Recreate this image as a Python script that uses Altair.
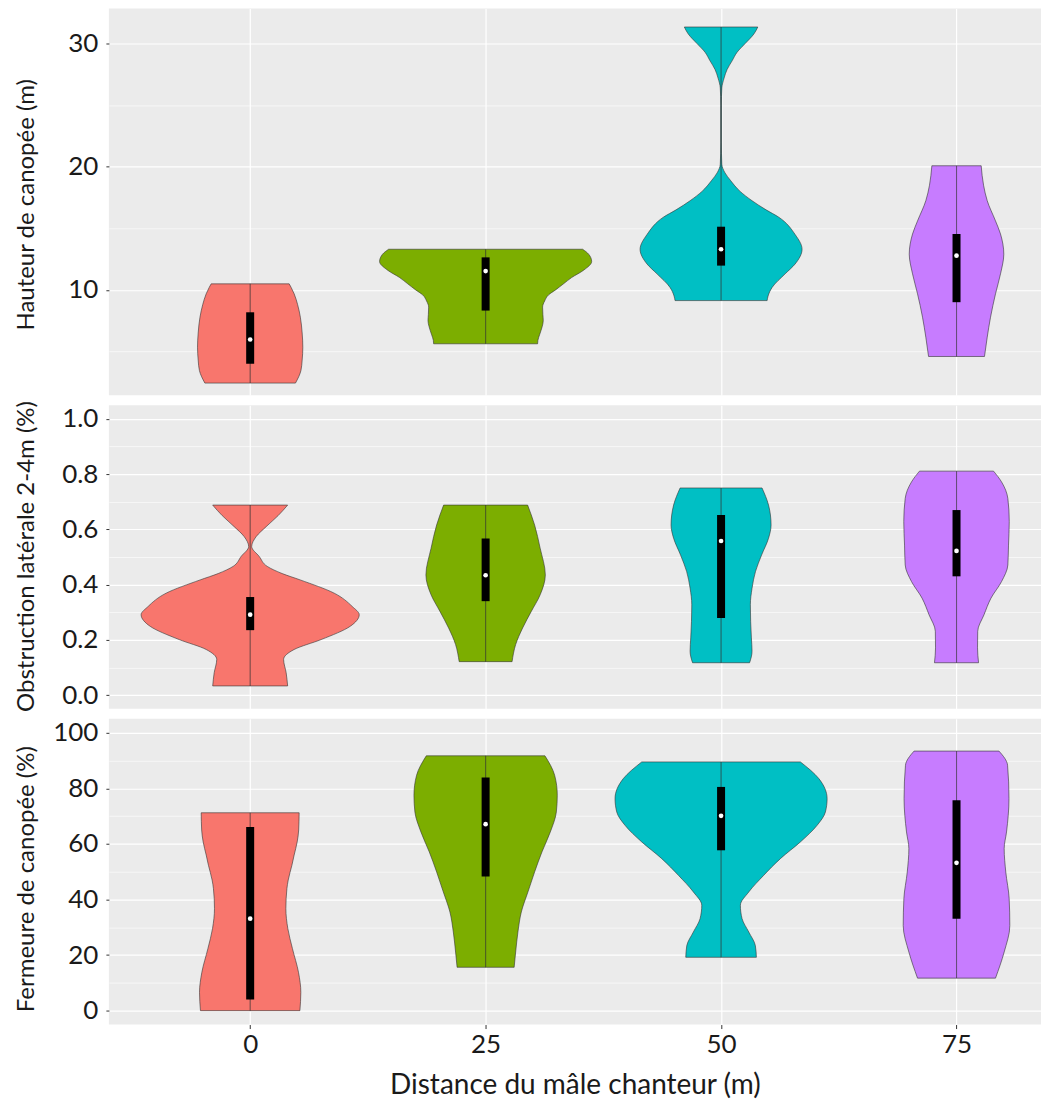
import altair as alt
import pandas as pd

# ---------------- data ----------------
DIST = [0, 25, 50, 75]
GROUPS = ["0", "25", "50", "75"]
COLORS = ["#F8766D", "#7CAE00", "#00BFC4", "#C77CFF"]

# Panel 1 : Hauteur de canopée (m) -- violin outline: level (Y) and half-width (W, in x units)
HC0_Y = [10.49, 10.2, 9.68, 8.8, 7.78, 6.5, 5.34, 4.3, 3.45, 2.43]
HC0_W = [4.14, 4.35, 4.67, 5.04, 5.33, 5.52, 5.59, 5.52, 5.39, 4.81]
HC25_Y = [13.3, 12.9, 12.3, 11.6, 11.0, 10.5, 10.0, 9.6, 9.1, 8.6, 8.0, 7.5, 7.0, 6.4, 5.9, 5.62]
HC25_W = [10.30, 10.94, 11.26, 10.41, 9.13, 8.28, 7.43, 6.69, 6.27, 6.05, 6.08, 6.12, 6.0, 5.75, 5.55, 5.52]
HC50_Y = [31.35, 30.8, 30.0, 29.3, 28.6, 27.9, 27.2, 26.4, 25.0, 22.0, 20.2, 19.5, 18.9, 18.0,
          17.24, 16.5, 15.9, 14.5, 13.3, 12.1, 11.3, 10.2, 9.5, 9.13]
HC50_W = [3.90, 3.50, 2.55, 1.70, 1.17, 0.64, 0.32, 0.085, 0.03, 0.03, 0.085, 0.42, 0.99, 2.02,
          3.29, 4.78, 6.13, 7.86, 8.60, 7.86, 6.80, 5.42, 4.99, 4.89]
HC75_Y = [20.08, 18.5, 17.24, 15.6, 14.54, 12.9, 11.3, 9.68, 7.78, 6.16, 4.59]
HC75_W = [2.62, 2.87, 3.26, 4.14, 4.67, 5.02, 4.67, 4.14, 3.61, 3.26, 2.97]
HC_Q1 = [4.0, 8.32, 11.97, 9.0]
HC_MED = [5.97, 11.53, 13.3, 12.78]
HC_Q3 = [8.18, 12.64, 15.13, 14.54]

# Panel 2 : Obstruction latérale 2-4m (%)
OL0_Y = [0.688, 0.65, 0.610, 0.574, 0.538, 0.502, 0.466, 0.44, 0.417, 0.369, 0.321, 0.291,
         0.249, 0.201, 0.165, 0.129, 0.081, 0.033]
OL0_W = [3.98, 2.97, 1.70, 0.64, 0.16, 0.96, 1.81, 3.40, 5.31, 8.92, 10.83, 11.58,
         10.62, 7.54, 4.67, 3.55, 3.82, 3.98]
OL25_Y = [0.688, 0.616, 0.532, 0.435, 0.363, 0.303, 0.243, 0.183, 0.121]
OL25_W = [4.46, 5.20, 5.79, 6.34, 5.79, 4.85, 3.93, 3.19, 2.81]
OL50_Y = [0.75, 0.688, 0.616, 0.568, 0.507, 0.448, 0.387, 0.327, 0.267, 0.207, 0.159, 0.117]
OL50_W = [4.35, 5.04, 5.31, 5.04, 4.30, 3.66, 3.29, 3.11, 3.14, 3.22, 3.29, 3.03]
OL75_Y = [0.811, 0.772, 0.712, 0.628, 0.543, 0.471, 0.411, 0.351, 0.291, 0.231, 0.171, 0.117]
OL75_W = [3.93, 4.78, 5.45, 5.60, 5.52, 5.45, 4.78, 3.66, 2.92, 2.25, 2.23, 2.34]
OL_Q1 = [0.235, 0.34, 0.279, 0.43]
OL_MED = [0.291, 0.434, 0.558, 0.522]
OL_Q3 = [0.355, 0.567, 0.652, 0.67]

# Panel 3 : Fermeure de canopée (%)
FC0_Y = [71.2, 65.0, 60.7, 56.0, 52.3, 47.0, 43.9, 36.7, 29.5, 22.3, 13.8, 6.6, 0.0]
FC0_W = [5.20, 5.15, 4.99, 4.67, 4.43, 4.04, 3.90, 3.79, 4.00, 4.49, 5.13, 5.38, 5.28]
FC25_Y = [91.7, 84.7, 77.5, 71.5, 64.3, 57.1, 49.9, 42.7, 35.5, 28.3, 21.1, 15.6]
FC25_W = [6.30, 7.33, 7.61, 7.51, 6.87, 5.98, 5.20, 4.49, 3.79, 3.43, 3.19, 3.03]
FC50_Y = [89.5, 83.5, 76.3, 71.5, 66.7, 60.7, 54.7, 48.7, 42.7, 37.9, 33.1, 28.3, 23.4, 19.2]
FC50_W = [8.42, 10.38, 11.26, 11.08, 10.20, 8.42, 6.30, 4.53, 2.94, 2.05, 2.23, 2.94, 3.64, 3.75]
FC75_Y = [93.4, 88.3, 76.3, 64.3, 58.3, 49.9, 40.3, 30.6, 21.1, 11.7]
FC75_W = [4.51, 5.42, 5.57, 5.31, 5.06, 5.23, 5.59, 5.66, 5.06, 4.14]
FC_Q1 = [4.0, 48.3, 57.7, 33.1]
FC_MED = [33.1, 67.1, 70.1, 53.2]
FC_Q3 = [66.1, 83.9, 80.5, 75.7]

# axis ticks / labels
X_TICKS = [0, 25, 50, 75]
HC_TICKS = [5, 10, 15, 20, 25, 30]
OL_TICKS = [0.0, 0.1, 0.2, 0.3, 0.4, 0.5, 0.6, 0.7, 0.8, 0.9, 1.0]
FC_TICKS = [0, 10, 20, 30, 40, 50, 60, 70, 80, 90, 100]

TITLE_X = "Distance du mâle chanteur (m)"
TITLE_HC = "Hauteur de canopée (m)"
TITLE_OL = "Obstruction latérale 2-4m (%)"
TITLE_FC = "Fermeure de canopée (%)"

FONT = "Lato"
TXT = "#1a1a1a"


def violin_frame(ys_list, ws_list):
    rows = []
    for g, d, ys, ws in zip(GROUPS, DIST, ys_list, ws_list):
        for y, w in sorted(zip(ys, ws)):
            rows.append({"grp": g, "dist": d, "y": y, "half": w})
    return pd.DataFrame(rows)


def box_frame(ys_list, q1, med, q3):
    return pd.DataFrame({
        "grp": GROUPS, "dist": DIST,
        "lo": [min(v) for v in ys_list], "hi": [max(v) for v in ys_list],
        "q1": q1, "med": med, "q3": q3,
    })


X_DOMAIN = [-15, 83.97]
PLOT_W = 933


def panel(vdf, bdf, ydom, yticks, major, fmt, height, ytitle, title_y, bottom):
    xs = alt.Scale(domain=X_DOMAIN, nice=False, zero=False)
    ys = alt.Scale(domain=ydom, nice=False, zero=False)
    if bottom:
        xa = alt.Axis(values=X_TICKS, grid=True, gridColor="white", gridWidth=1.2,
                      domain=False, ticks=True, tickSize=4, tickColor="#333",
                      labelFont=FONT, labelFontSize=26, labelColor=TXT, labelPadding=3,
                      labelAngle=0, title=TITLE_X, titleFont=FONT, titleFontSize=28,
                      titleFontWeight="normal", titleColor=TXT, titlePadding=14)
    else:
        xa = alt.Axis(values=X_TICKS, grid=True, gridColor="white", gridWidth=1.2,
                      domain=False, ticks=False, labels=False, title=None)
    ya = alt.Axis(values=yticks, format=fmt,
                  labelExpr=f"({major}) ? datum.label : ''",
                  grid=True, gridColor="white",
                  gridWidth={"condition": {"test": major, "value": 1.2}, "value": 0.6},
                  tickOpacity={"condition": {"test": major, "value": 1}, "value": 0},
                  tickSize=3, tickColor="#333", domain=False,
                  labelFont=FONT, labelFontSize=26, labelColor=TXT, labelPadding=8,
                  title=ytitle, titleFont=FONT, titleFontSize=24, titleFontWeight="normal",
                  titleColor=TXT, titleAngle=270, titleAlign="center",
                  titleBaseline="middle", titleX=-82, titleY=title_y)

    color = alt.Color("grp:N", scale=alt.Scale(domain=GROUPS, range=COLORS), legend=None)

    violin = alt.Chart(vdf).transform_calculate(
        xlo="datum.dist - datum.half", xhi="datum.dist + datum.half"
    ).mark_area(orient="horizontal", interpolate="monotone", opacity=1,
                stroke="#333333", strokeWidth=0.8, strokeOpacity=0.75).encode(
        y=alt.Y("y:Q", scale=ys, axis=ya),
        x=alt.X("xlo:Q", scale=xs, axis=xa),
        x2="xhi:Q",
        fill=color,
    )
    whisker = alt.Chart(bdf).mark_rule(color="#333333", strokeWidth=1.1, opacity=0.65).encode(
        x=alt.X("dist:Q", scale=xs, axis=xa),
        y=alt.Y("lo:Q", scale=ys, axis=ya),
        y2="hi:Q",
    )
    box = alt.Chart(bdf).mark_rule(color="black", strokeWidth=8, strokeCap="butt").encode(
        x=alt.X("dist:Q", scale=xs, axis=xa),
        y=alt.Y("q1:Q", scale=ys, axis=ya),
        y2="q3:Q",
    )
    med = alt.Chart(bdf).mark_point(filled=True, color="white", size=22, opacity=1).encode(
        x=alt.X("dist:Q", scale=xs, axis=xa),
        y=alt.Y("med:Q", scale=ys, axis=ya),
    )
    return alt.layer(violin, whisker, box, med).properties(width=PLOT_W, height=height)


hc_y = [HC0_Y, HC25_Y, HC50_Y, HC75_Y]
ol_y = [OL0_Y, OL25_Y, OL50_Y, OL75_Y]
fc_y = [FC0_Y, FC25_Y, FC50_Y, FC75_Y]

p1 = panel(violin_frame(hc_y, [HC0_W, HC25_W, HC50_W, HC75_W]),
           box_frame(hc_y, HC_Q1, HC_MED, HC_Q3),
           [1.45, 32.85], HC_TICKS, "datum.value % 10 === 0", "d", 387, TITLE_HC, 196, False)
p2 = panel(violin_frame(ol_y, [OL0_W, OL25_W, OL50_W, OL75_W]),
           box_frame(ol_y, OL_Q1, OL_MED, OL_Q3),
           [-0.05, 1.05], OL_TICKS, "round(datum.value * 10) % 2 === 0", ".1f", 304, TITLE_OL, 151, False)
p3 = panel(violin_frame(fc_y, [FC0_W, FC25_W, FC50_W, FC75_W]),
           box_frame(fc_y, FC_Q1, FC_MED, FC_Q3),
           [-5, 105], FC_TICKS, "datum.value % 20 === 0", "d", 306, TITLE_FC, 160, True)

chart = alt.vconcat(p1, p2, p3, spacing=10, bounds="flush").properties(
    padding={"left": 7, "top": 0, "right": 0, "bottom": 0},
    background="white",
).configure_view(fill="#EBEBEB", strokeWidth=0)

chart.save("out.html", embed_options={"renderer": "svg", "actions": False})
